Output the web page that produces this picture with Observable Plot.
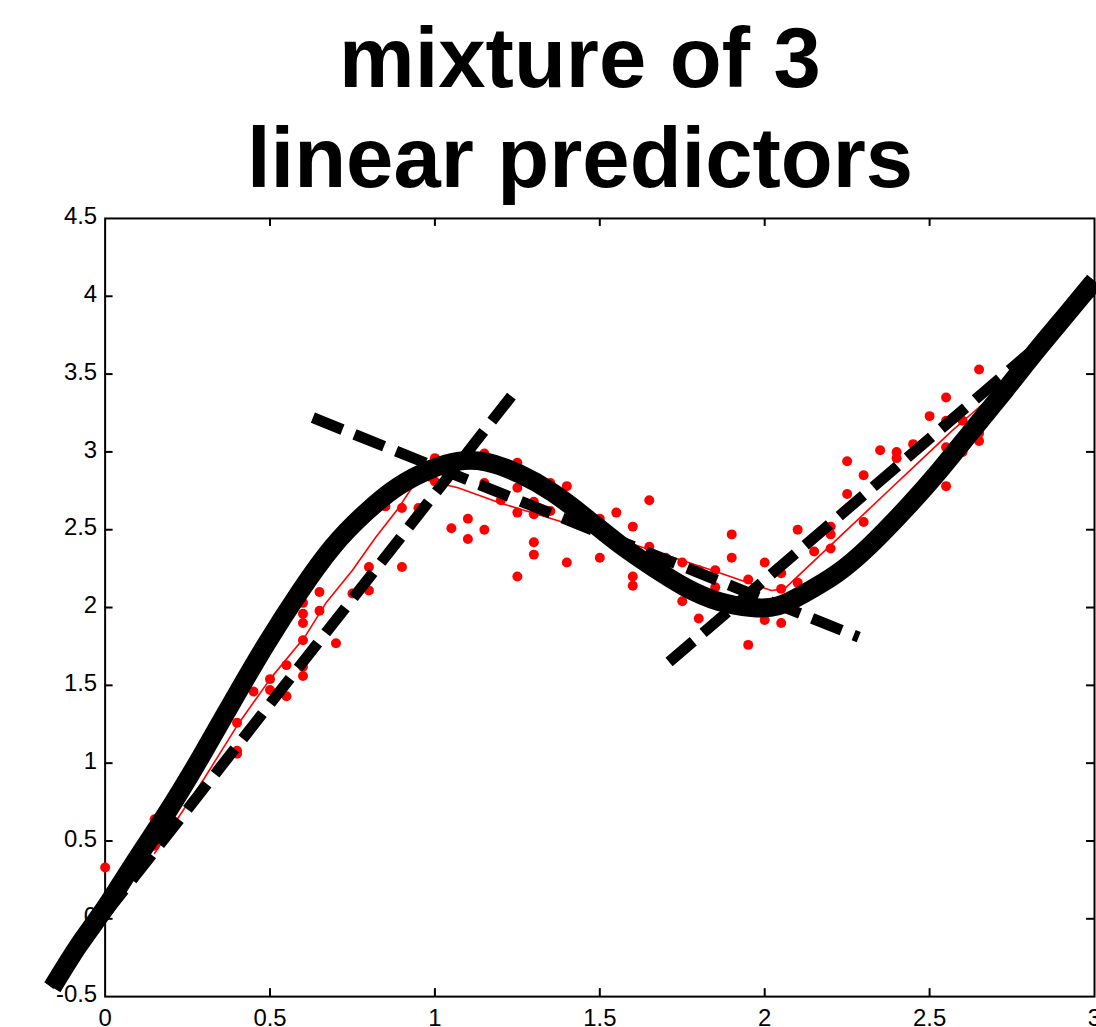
<!DOCTYPE html>
<html>
<head>
<meta charset="utf-8">
<script src="https://cdn.jsdelivr.net/npm/d3@7"></script>
<script src="https://cdn.jsdelivr.net/npm/@observablehq/plot@0.6"></script>
<style>
  html, body { margin: 0; padding: 0; background: #fff; overflow: hidden; }
  #title { width: 1160px; padding-top: 8px; text-align: center; font-family: "Liberation Sans", Arial, Helvetica, sans-serif; font-weight: bold; font-size: 85px; line-height: 100px; color: #000; }
  #chart svg { display: block; overflow: visible; }
</style>
</head>
<body>
<div id="title">mixture of 3<br>linear predictors</div>
<div id="chart"></div>
<script>
// ---- data ----
const xTicks = [0, 0.5, 1, 1.5, 2, 2.5, 3];
const yTicks = [-0.5, 0, 0.5, 1, 1.5, 2, 2.5, 3, 3.5, 4, 4.5];

// observed samples (red dots)
const dotX = [0, 0.15, 0.15, 0.4, 0.4, 0.4, 0.45, 0.5, 0.5, 0.55, 0.55,
  0.6, 0.6, 0.6, 0.6, 0.6, 0.6, 0.65, 0.65, 0.7, 0.75, 0.8, 0.8, 0.8,
  0.85, 0.9, 0.9, 0.95, 1.0, 1.0, 1.05, 1.1, 1.1, 1.15, 1.15, 1.15, 1.2,
  1.25, 1.25, 1.25, 1.25, 1.3, 1.3, 1.3, 1.3, 1.35, 1.35, 1.4, 1.4,
  1.5, 1.5, 1.55, 1.6, 1.6, 1.6, 1.65, 1.65, 1.7, 1.7, 1.75, 1.75,
  1.8, 1.8, 1.85, 1.85, 1.9, 1.9, 1.95, 1.95, 2.0, 2.0, 2.05, 2.05, 2.05,
  2.1, 2.1, 2.1, 2.15, 2.2, 2.2, 2.2, 2.25, 2.25, 2.3, 2.3, 2.35, 2.4, 2.4,
  2.45, 2.5, 2.55, 2.55, 2.55, 2.55, 2.6, 2.6, 2.65, 2.65, 2.65];
const dotY = [0.33, 0.64, 0.47, 1.26, 1.08, 1.06, 1.46, 1.54, 1.47, 1.63, 1.43,
  2.03, 1.96, 1.90, 1.79, 1.62, 1.56, 2.10, 1.98, 1.77, 2.09, 2.26, 2.19, 2.11,
  2.65, 2.64, 2.26, 2.64, 2.96, 2.81, 2.51, 2.57, 2.44, 2.99, 2.80, 2.50, 2.69,
  2.93, 2.77, 2.61, 2.20, 2.68, 2.60, 2.42, 2.34, 2.80, 2.62, 2.78, 2.29,
  2.57, 2.32, 2.61, 2.52, 2.20, 2.14, 2.69, 2.39, 2.32, 2.26, 2.29, 2.04,
  2.24, 1.93, 2.24, 2.13, 2.47, 2.32, 2.18, 1.76, 2.29, 1.92, 2.22, 2.12, 1.90,
  2.50, 2.16, 2.07, 2.36, 2.52, 2.47, 2.38, 2.94, 2.73, 2.85, 2.55, 3.01, 3.00, 2.96,
  3.05, 3.23, 3.35, 3.20, 3.03, 2.78, 3.20, 3.00, 3.53, 3.07, 3.12];

// mixture prediction (thin red line)
const predX = [0.15, 0.30, 0.40, 0.50, 0.605, 0.67, 0.75, 0.82, 0.89, 0.93, 0.955,
  1.01, 1.07, 1.20, 1.34, 1.61, 1.84, 1.95, 2.02, 2.06, 2.12, 2.21, 2.31, 2.38,
  2.44, 2.505, 2.57, 2.63, 2.69, 2.70];
const predY = [0.42, 0.90, 1.24, 1.54, 1.81, 2.03, 2.24, 2.45, 2.64, 2.77, 2.83,
  2.80, 2.77, 2.67, 2.58, 2.40, 2.24, 2.16, 2.11, 2.12, 2.24, 2.42, 2.62, 2.76,
  2.88, 3.01, 3.14, 3.25, 3.36, 3.38];

// true function (thick black curve)
const trueX = [-0.16, -0.08, 0.0, 0.085, 0.19, 0.29, 0.39, 0.49, 0.59, 0.69, 0.79,
  0.89, 0.99, 1.07, 1.155, 1.255, 1.356, 1.457, 1.558, 1.66, 1.76, 1.86, 1.96,
  2.04, 2.12, 2.22, 2.32, 2.43, 2.53, 2.63, 2.73, 2.82, 2.91, 3.0];
const trueY = [-0.44, -0.17, 0.07, 0.35, 0.69, 1.04, 1.41, 1.77, 2.10, 2.39, 2.61,
  2.78, 2.89, 2.94, 2.935, 2.86, 2.74, 2.58, 2.41, 2.26, 2.13, 2.04, 2.00,
  2.01, 2.09, 2.22, 2.40, 2.64, 2.88, 3.14, 3.40, 3.64, 3.87, 4.10];

// the three linear experts (dashed lines), endpoints
const expert1X = [-0.17, 1.24], expert1Y = [-0.43, 3.38];
const expert2X = [0.63, 2.285], expert2Y = [3.22, 1.81];
const expert3X = [1.71, 2.86], expert3Y = [1.65, 3.74];

// ---- build tables ----
const zip = (xs, ys, k) => xs.map((x, i) => ({x, y: ys[i], k}));
const dots = zip(dotX, dotY);
const pred = zip(predX, predY);
const truth = zip(trueX, trueY);
const experts = [
  ...zip(expert1X, expert1Y, "e1"),
  ...zip(expert2X, expert2Y, "e2"),
  ...zip(expert3X, expert3Y, "e3")
];

const W = 1100, H = 831;
const mL = 105, mR = 2, mT = 10, mB = 40;
const innerW = W - mL - mR, innerH = H - mT - mB;
const tickLen = 8;
const fmt = d => String(d);
const innerX = xTicks.slice(1, -1), innerY = yTicks.slice(1, -1);

const chart = Plot.plot({
  width: W, height: H,
  marginLeft: mL, marginRight: mR, marginTop: mT, marginBottom: mB,
  style: {fontFamily: "'Liberation Sans', Arial, Helvetica, sans-serif", fontSize: "24px", color: "#000", background: "#fff", overflow: "visible"},
  x: {domain: [0, 3]},
  y: {domain: [-0.5, 4.5]},
  marks: [
    Plot.axisY(yTicks, {anchor: "left", tickSize: 0, tickPadding: 8, tickFormat: fmt, fontSize: 24, dy: -2, label: null}),
    Plot.axisX(xTicks, {anchor: "bottom", tickSize: 0, tickPadding: 12, tickFormat: fmt, fontSize: 24, label: null}),
    Plot.tickY(innerY, {y: d => d, insetRight: innerW - tickLen, stroke: "#000", strokeWidth: 2}),
    Plot.tickY(innerY, {y: d => d, insetLeft: innerW - tickLen, stroke: "#000", strokeWidth: 2}),
    Plot.tickX(innerX, {x: d => d, insetTop: innerH - tickLen, stroke: "#000", strokeWidth: 2}),
    Plot.tickX(innerX, {x: d => d, insetBottom: innerH - tickLen, stroke: "#000", strokeWidth: 2}),
    Plot.frame({stroke: "#000", strokeWidth: 2}),
    Plot.dot(dots, {x: "x", y: "y", r: 5, fill: "#ff0000", stroke: "none"}),
    Plot.line(pred, {x: "x", y: "y", stroke: "#ff0000", strokeWidth: 1.6}),
    Plot.line(experts, {x: "x", y: "y", z: "k", stroke: "#000", strokeWidth: 11, strokeDasharray: "32,13", strokeLinecap: "butt"}),
    Plot.line(truth, {x: "x", y: "y", curve: "natural", stroke: "#000", strokeWidth: 19, strokeLinecap: "butt", strokeLinejoin: "round"})
  ]
});
document.getElementById("chart").appendChild(chart);
</script>
</body>
</html>
